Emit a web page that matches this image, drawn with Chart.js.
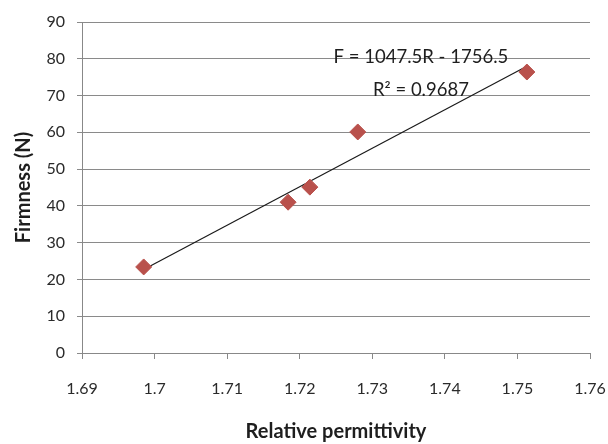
<!DOCTYPE html>
<html>
<head>
<meta charset="utf-8">
<script src="https://cdn.jsdelivr.net/npm/chart.js@4"></script>
<style>
  html, body { margin: 0; padding: 0; background: #fff; }
  #wrap { width: 608px; height: 444px; }
</style>
</head>
<body>
<div id="wrap"><canvas id="chart" width="608" height="444"></canvas></div>
<script>
  // ── DATA ──
  const permittivity = [1.6985, 1.7184, 1.7214, 1.7280, 1.7513];
  const firmness = [23.4, 41.0, 45.1, 60.1, 76.4];
  const xTicks = [1.69, 1.70, 1.71, 1.72, 1.73, 1.74, 1.75, 1.76];
  const yTicks = [0, 10, 20, 30, 40, 50, 60, 70, 80, 90];
  const trendSlope = 1047.5;
  const trendIntercept = -1756.5;
  const equationText = ['F = 1047.5R - 1756.5', 'R² = 0.9687'];

  const points = permittivity.map((x, i) => ({ x: x, y: firmness[i] }));
  const xMin = Math.min(...permittivity), xMax = Math.max(...permittivity);
  const trend = [xMin, xMax].map(x => ({ x: x, y: trendSlope * x + trendIntercept }));

  const FONT = 'Lato, "Open Sans", sans-serif';

  // ── equation label ──
  const equationLabel = {
    id: 'equationLabel',
    afterDatasetsDraw(chart) {
      const ctx = chart.ctx;
      const xs = chart.scales.x, ys = chart.scales.y;
      const cx = xs.getPixelForValue(1.7367);
      ctx.save();
      ctx.fillStyle = '#1e1e1e';
      ctx.font = '18.5px ' + FONT;
      ctx.textAlign = 'center';
      ctx.textBaseline = 'middle';
      ctx.fillText(equationText[0], cx, ys.getPixelForValue(80.4));
      ctx.fillText(equationText[1], cx, ys.getPixelForValue(71.5));
      ctx.restore();
    }
  };

  new Chart(document.getElementById('chart').getContext('2d'), {
    type: 'scatter',
    data: {
      datasets: [
        {
          label: 'Firmness',
          data: points,
          pointStyle: 'rectRot',
          pointRadius: 8,
          pointHoverRadius: 8,
          backgroundColor: '#b9514c',
          borderColor: '#b9514c',
          borderWidth: 1,
          order: 1
        },
        {
          label: 'Trend',
          type: 'line',
          data: trend,
          borderColor: '#1a1a1a',
          borderWidth: 1.2,
          pointRadius: 0,
          fill: false,
          order: 2
        }
      ]
    },
    options: {
      responsive: false,
      animation: false,
      layout: { padding: { top: 22, right: 18, left: 0, bottom: 0 } },
      plugins: {
        legend: { display: false },
        tooltip: { enabled: false }
      },
      scales: {
        x: {
          type: 'linear',
          min: 1.69,
          max: 1.76,
          afterBuildTicks: s => { s.ticks = xTicks.map(v => ({ value: v })); },
          afterFit: s => { s.height = 91; s.paddingLeft = 0; s.paddingRight = 0; },
          grid: { drawOnChartArea: false, drawTicks: true, tickLength: 6, color: '#888' },
          border: { color: '#888', width: 1 },
          ticks: {
            color: '#2a2a2a',
            font: { family: FONT, size: 16 },
            padding: 20,
            maxRotation: 0,
            callback: v => String(Math.round(v * 100) / 100)
          },
          title: {
            display: true,
            text: 'Relative permittivity',
            color: '#1e1e1e',
            font: { family: FONT, size: 20, weight: 'bold' },
            padding: { top: 10, bottom: 0 }
          }
        },
        y: {
          min: 0,
          max: 90,
          afterBuildTicks: s => { s.ticks = yTicks.map(v => ({ value: v })); },
          afterFit: s => { s.width = 82; },
          grid: { color: '#8a8a8a', lineWidth: 1, tickLength: 5 },
          border: { color: '#888', width: 1 },
          ticks: {
            color: '#2a2a2a',
            font: { family: FONT, size: 16 },
            padding: 12
          },
          title: {
            display: true,
            text: 'Firmness (N)',
            color: '#1e1e1e',
            font: { family: FONT, size: 20, weight: 'bold' },
            padding: { top: 12, bottom: 0 }
          }
        }
      }
    },
    plugins: [equationLabel]
  });
</script>
</body>
</html>
